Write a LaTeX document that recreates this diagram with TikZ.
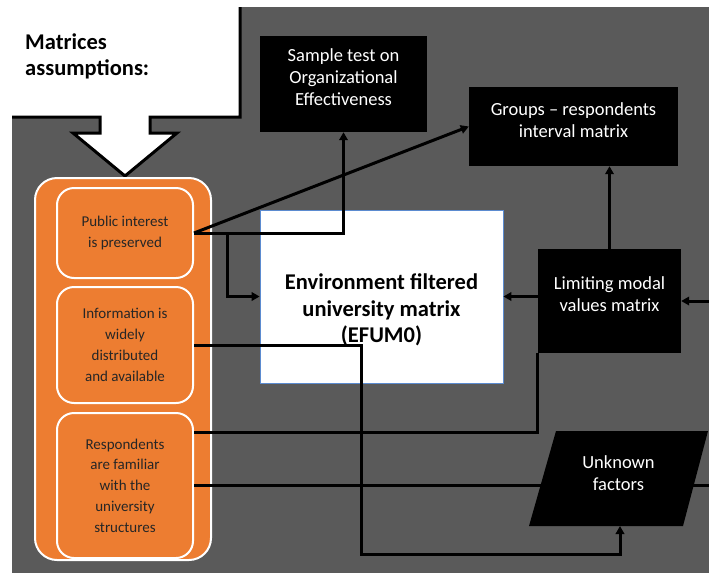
\documentclass[tikz,border=0pt]{standalone}
\usepackage{fontspec}
\setmainfont{Carlito}
\usetikzlibrary{arrows.meta}
\definecolor{bggray}{HTML}{5A5A5A}
\definecolor{orng}{HTML}{ED7D31}
\definecolor{efumblue}{HTML}{5B8BD0}
\begin{document}
\begin{tikzpicture}[x=1pt,y=-1pt,
  conn/.style={line width=3pt, draw=black},
  arr/.style={conn, -{Triangle[length=8pt,width=8.5pt]}},
  blackbox/.style={fill=black, draw=none, inner sep=0pt},
  wtxt/.style={text=white, align=center, font=\fontsize{18.5}{22}\selectfont},
  obox/.style={draw=white, line width=2pt, fill=orng, rounded corners=17pt,
    minimum width=136pt, inner sep=0pt, align=center, text=black!85,
    font=\fontsize{15}{20.8}\selectfont},
]
\useasboundingbox (0,0) rectangle (709,573);
% background and callout
\fill[bggray] (12,7) rectangle (709,573);
\fill[white] (0,0) -- (240,0) -- (240,117) -- (150,117) -- (150,133) -- (177,133)
  -- (125,176) -- (73,133) -- (100,133) -- (100,117) -- (0,117) -- cycle;
\draw[line width=3pt] (240,7) -- (240,117) -- (150,117) -- (150,133) -- (177,133)
  -- (125,176) -- (73,133) -- (100,133) -- (100,117) -- (12,117);
\node[anchor=west, inner sep=0pt, align=left,
  font=\bfseries\fontsize{22.5}{26}\selectfont] (title) at (25,56) {Matrices\\assumptions:};
% orange panel
\node[draw=white, line width=2pt, fill=orng, rounded corners=22pt,
  minimum width=176pt, minimum height=382pt, inner sep=0pt] (panel) at (123,369) {};
\node[obox, minimum height=90pt] (b1) at (125,233) {Public interest\\is preserved};
\node[obox, minimum height=116pt] (b2) at (125,345) {Information is\\widely\\distributed\\and available};
\node[obox, minimum height=145pt] (b3) at (125,485.5) {Respondents\\are familiar\\with the\\university\\structures};
% central white box
\node[fill=white, draw=efumblue, line width=0.8pt, minimum width=243pt,
  minimum height=173pt, inner sep=0pt,
  label={[align=center, text=black, yshift=-13.5pt,
    font=\bfseries\fontsize{22.5}{26.5}\selectfont]center:{Environment filtered\\university matrix\\(EFUM0)}}]
  (efum) at (381.5,296.5) {};
% black boxes
\node[blackbox, minimum width=167pt, minimum height=96pt,
  label={[wtxt, yshift=7pt]center:{Sample test on\\Organizational\\Effectiveness}}]
  (sample) at (343.5,84) {};
\node[blackbox, minimum width=209pt, minimum height=79pt,
  label={[wtxt, yshift=6.5pt]center:{Groups -- respondents\\interval matrix}}]
  (groups) at (573.5,126.5) {};
\node[blackbox, minimum width=143pt, minimum height=104pt,
  label={[wtxt, yshift=7pt]center:{Limiting modal\\values matrix}}]
  (lim) at (609.5,301) {};
% helper coordinates
\coordinate (j1) at (227,233);
\coordinate (unkb) at (620,526);
\coordinate (edgeR) at (709,0);
% connectors
\draw[arr] (b1.east) -- (groups.west);
\draw[arr] (b1.east) -| (sample.south);
\draw[arr] (j1) |- (efum.west);
\draw[arr] (b2.east) -| (361,554) -| (unkb);
\draw[conn] ([yshift=53.5pt]b3.east) -| (lim.south west);
\draw[conn] (b3.east) -- (b3.east -| edgeR);
\draw[arr] (efum.east -| lim.west) -- (efum.east);
\draw[arr] (lim.east -| edgeR) -- (lim.east);
\draw[arr] (lim.north) -- (lim.north |- groups.south);
% unknown factors parallelogram
\fill[black] (529,526) -- (556,431) -- (708,431) -- (683,526) -- cycle;
\node[wtxt] (unk) at (618.5,473.5) {Unknown\\factors};
\end{tikzpicture}
\end{document}
